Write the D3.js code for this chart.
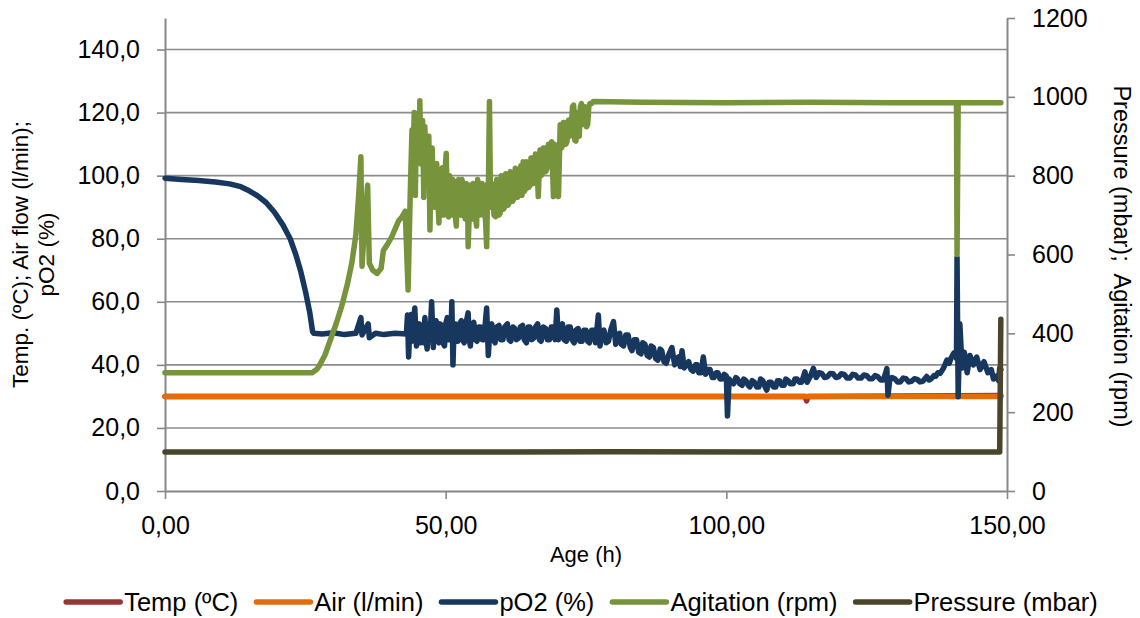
<!DOCTYPE html>
<html><head><meta charset="utf-8">
<script src="https://cdn.jsdelivr.net/npm/d3@7"></script>
<style>
html,body{margin:0;padding:0;background:#fff;}
svg text{font-family:"Liberation Sans",Arial,sans-serif;fill:#000;}
</style></head>
<body>
<svg id="chart" width="1140" height="618"></svg>
<script>
// ---- data: [age (h), value] ----
const seriesNames = ["Temp (ºC)", "Air (l/min)", "pO2 (%)", "Agitation (rpm)", "Pressure (mbar)"];
const leftTicks = [0, 20, 40, 60, 80, 100, 120, 140];
const rightTicks = [0, 200, 400, 600, 800, 1000, 1200];
const xTicks = [0, 50, 100, 150];

const tempData = [[0,30],[114.0,30],[114.3,28.6],[114.6,30],[148.9,30.3]];
const airData = [[0,30],[148.9,30]];
const pressureData = [[0,99],[40,99],[80,99.3],[120,99],[148.7,99],[148.9,436]];

const pO2Data = [
 [0,99.2],[3,98.8],[6,98.5],[9,98.0],[11.5,97.4],[13.5,96.5],[15,95.2],[16.5,93.6],[18,91.5],
 [19.5,88.4],[21,84.4],[22.3,80.0],[23.3,75.0],[24.2,69.5],[25,63.5],[25.8,56.5],[26.3,50.5],[26.5,50.0],
 [28,49.8],[30,50.2],[32,49.6],[34,50.0],[34.9,55.0],[35.1,49.5],[36.2,53.0],[36.4,48.6],
 [37.5,50.0],[39,49.6],[41,50.0],[43,49.8],[43.2,55.8],[43.4,42.5],[43.6,51],[43.8,56.0],[44.0,47.5],
 [44.2,52],[44.5,58.0],[44.8,46.0],[45.0,52],[45.3,53.0],[45.5,47],[45.8,52.5],[46.0,47.0],[46.3,55.0],
 [46.5,48],[46.7,45.0],[47.0,53],[47.2,48],[47.5,60.0],[47.8,45.5],[48.0,52],[48.3,54.0],[48.5,48],
 [48.8,47.0],[49.0,53],[49.3,52.5],[49.5,47],[49.8,46.0],[50.0,53],[50.3,55.0],[50.5,48],[50.8,48.0],
 [51.0,53],[51.1,60.0],[51.3,40.0],[51.5,52],[51.7,53.0],[52.0,47.5],[52.2,47.5],[52.5,53],[52.8,54.0],
 [53.0,48],[53.3,47.0],[53.6,53],[54.0,56.5],[54.2,48],[54.4,46.0],[54.7,52],[55.0,53.5],[55.3,48],
 [55.6,47.5],[55.9,52],[56.2,52.0],[56.5,48],[56.8,48.0],[57.0,52],[57.3,58.0],[57.6,43.0],[57.9,52],
 [58.2,53.0],[58.5,48],[58.8,47.0],[59.1,52],[59.5,52.5],[59.8,48],[60.2,48.0],[60.5,52],[61,53.0],
 [61.3,48],[61.6,47.5],[62.0,52],[62.3,51.5],[62.6,48],[63,48.5],[63.3,52],[63.7,52.5],[64.0,48],
 [64.4,47.0],[64.7,52],[65,52.0],[65.3,48],[65.7,48.5],[66.0,52],[66.4,53.0],[66.7,48],[67,47.5],
 [67.4,52],[67.8,51.5],[68.1,48],[68.5,48.0],[68.8,52],[69.2,52.0],[69.5,48],[69.8,57.4],[70.1,48.0],
 [70.4,52],[70.8,53.0],[71.1,48],[71.5,47.5],[71.8,52],[72.2,52.0],[72.5,48],[72.9,47.0],[73.2,51],
 [73.6,51.5],[73.9,47.5],[74.3,47.5],[74.6,51],[75,51.0],[75.3,47.5],[75.6,47.0],[76.0,51],[76.3,51.0],
 [76.7,47],[77.2,55.8],[77.5,46.0],[77.8,50],[78.2,51.0],[78.6,47],[79,47.5],[79.4,51],[79.9,53.7],
 [80.3,46.5],[80.6,49.5],[81,50.0],[81.3,46.5],[81.7,46.0],[82.1,49.5],[82.5,49.5],[82.9,45.5],
 [83.2,44.5],[83.6,48],[84,48.0],[84.4,44],[84.8,43.5],[85.1,47],[85.5,46.5],[85.9,43],[86.3,42.5],
 [86.6,46],[87,45.5],[87.4,42],[87.8,41.5],[88.2,45],[88.5,44.5],[88.9,41],[89.3,40.5],[89.8,43.5],
 [90.3,45.5],[90.8,40.0],[91.1,42],[91.5,42.5],[91.8,39.5],[92.1,44.5],[92.5,39.0],[92.9,40],
 [93.3,41.0],[93.7,38.5],[94.1,38.0],[94.5,40],[94.8,40.0],[95.1,37.5],[95.5,37.5],[95.9,42.5],
 [96.3,37.0],[96.7,38.5],[97.1,38.5],[97.5,36],[97.8,36.0],[98.2,37.5],[98.5,37.5],[98.9,35.5],
 [99.2,35.5],[99.6,37],[100.0,36.5],[100.2,23.8],[100.5,35.5],[100.9,34.5],[101.3,34.0],[101.7,36],
 [102,35.5],[102.4,34],[102.8,33.5],[103.1,35.5],[103.5,35.0],[103.9,33.5],[104.2,33.0],[104.6,35],
 [105,34.5],[105.4,33],[105.8,33.0],[106.1,35.5],[106.5,35.0],[106.9,33],[107.2,32.0],[107.6,34.5],
 [108,34.5],[108.4,33],[108.8,33.0],[109.1,35],[109.5,35.0],[109.9,33.5],[110.3,33.5],[110.6,35.5],
 [111,35.0],[111.4,34],[111.9,34.0],[112.2,35.5],[112.6,35.5],[113,34.5],[113.4,34.5],[113.7,36],
 [114.0,37.8],[114.4,34.5],[115,36.5],[115.5,38.9],[116,36.0],[116.5,37.5],[117,37.3],[117.5,36],
 [118,36.2],[118.5,37.3],[119,37.2],[119.5,36],[120,36.2],[120.5,37.2],[121,37.0],[121.5,35.8],
 [122,35.8],[122.5,37],[123,36.8],[123.5,35.8],[124,35.8],[124.5,36.8],[125,36.6],[125.5,35.6],
 [126,35.6],[126.5,36.6],[127,36.2],[127.5,35.2],[128,35.2],[128.6,38.8],[128.8,30.4],[129.1,35.0],
 [129.5,36],[130,35.6],[130.5,34.6],[131,34.6],[131.5,35.8],[132,35.6],[132.5,34.6],[133,34.8],
 [133.5,35.6],[134,35.4],[134.5,34.6],[135,34.8],[135.7,36.3],[136.1,35.2],[136.5,35.6],[137,36.6],
 [137.3,36.4],[137.7,37.5],[138.1,37.3],[138.7,39],[139.3,41.5],[139.7,40.5],[140,42.0],[140.5,43.7],
 [141.0,42.0],[141.1,74.0],[141.3,29.9],[141.6,53.0],[142.0,39.0],[142.4,44.0],[142.9,37.5],
 [143.4,43.0],[144,40.0],[144.6,42.5],[145.2,38.5],[145.9,41.0],[146.6,37.5],[147.2,38.5],
 [147.6,35.5],[148.2,36.5],[148.5,35.0],[148.7,39.0],[148.9,38.5]
];

const agitationData = [
 [0,300],[26.2,300],[27.0,308],[27.5,318],[28.5,345],[29.5,385],[30.5,425],[31.5,470],[32.5,525],
 [33.3,580],[34.0,650],[34.5,750],[34.9,848],[35.1,570],[35.4,640],[36.1,776],[36.4,578],[37.0,560],
 [37.8,552],[38.5,565],[38.9,610],[39.6,625],[40.4,645],[41.0,665],[41.6,685],[42.2,695],[42.8,710],
 [43.3,510],[43.7,760],[44.0,916],[44.2,850],[44.4,960],[44.6,750],[44.8,958],[45.0,900],[45.1,940],
 [45.3,860],[45.4,990],[45.6,830],[45.8,920],[45.9,940],[46.1,745],[46.3,924],[46.5,800],[46.6,860],
 [46.8,780],[47.0,900],[47.2,662],[47.4,850],[47.6,870],[47.8,760],[48.0,720],[48.2,800],[48.4,831],
 [48.6,740],[48.8,680],[49.0,790],[49.2,760],[49.4,820],[49.6,700],[49.8,790],[50.1,857],[50.3,720],
 [50.5,695],[50.7,800],[50.9,780],[51.1,700],[51.3,790],[51.5,764],[51.7,700],[51.9,672],[52.1,780],
 [52.3,790],[52.5,710],[52.7,700],[52.9,790],[53.1,775],[53.3,700],[53.5,690],[53.7,780],[53.9,760],
 [54.0,620],[54.2,700],[54.3,776],[54.5,700],[54.7,690],[54.9,780],[55.1,770],[55.3,700],[55.5,672],
 [55.7,790],[55.9,773],[56.1,700],[56.3,705],[56.5,780],[56.7,770],[56.9,700],[57.1,690],[57.3,620],
 [57.5,780],[57.6,760],[57.8,988],[58.0,720],[58.2,780],[58.4,770],[58.6,700],[58.9,696],[59.1,790],
 [59.3,780],[59.5,700],[59.7,705],[59.9,800],[60.1,790],[60.3,715],[60.5,720],[60.7,805],[60.9,800],
 [61.1,725],[61.3,730],[61.5,810],[61.7,805],[61.9,735],[62.1,740],[62.4,819],[62.6,810],[62.8,745],
 [63.0,750],[63.2,815],[63.4,825],[63.6,750],[63.8,835],[64.0,760],[64.2,765],[64.4,835],[64.6,830],
 [64.8,770],[65.0,775],[65.2,845],[65.4,845],[65.6,780],[65.8,785],[66.0,855],[66.2,850],[66.5,747],
 [66.8,865],[67.0,800],[67.2,805],[67.4,870],[67.6,870],[67.8,810],[68.0,815],[68.3,880],[68.5,880],
 [68.7,825],[68.9,886],[69.2,747],[69.4,880],[69.6,870],[69.8,830],[70.1,747],[70.4,929],[70.6,870],
 [70.8,875],[71.0,935],[71.2,935],[71.4,880],[71.6,885],[71.9,941],[72.1,900],[72.3,905],[72.6,975],
 [72.8,979],[73.0,890],[73.2,888],[73.4,960],[73.6,960],[73.8,900],[74.0,975],[74.2,983],[74.4,930],
 [74.6,930],[74.8,975],[75.1,924],[75.3,930],[75.5,975],[75.7,983],[76.0,983],[76.3,988],
 [85,986],[100,985],[115,986],[130,985],[141.0,985],[141.1,600],[141.3,985],[148.9,985]
];

const colors = ["#953735", "#E46C0A", "#17375E", "#77933C", "#4A452A"];

// ---- layout ----
const svg = d3.select("#chart");
const x = d3.scaleLinear().domain([0, 150]).range([165, 1007]);
const yL = d3.scaleLinear().domain([0, 150]).range([491, 18]);
const yR = d3.scaleLinear().domain([0, 1200]).range([491, 18]);
const axisColor = "#878787";

// gridlines
svg.append("g").selectAll("line").data(leftTicks.filter(d => d > 0)).join("line")
  .attr("x1", x(0)).attr("x2", x(150))
  .attr("y1", d => yL(d)).attr("y2", d => yL(d))
  .attr("stroke", "#8c8c8c").attr("stroke-width", 1.6);

const fmtL = d => d3.format(".1f")(d).replace(".", ",");
const fmtX = d => d3.format(".2f")(d).replace(".", ",");

function styleAxis(g) {
  g.select(".domain").attr("stroke", axisColor).attr("stroke-width", 2);
  g.selectAll(".tick line").attr("stroke", axisColor).attr("stroke-width", 1.6);
  g.selectAll(".tick text").attr("font-size", 25).attr("font-family", "Liberation Sans, Arial, sans-serif").attr("fill", "#000");
}

const gx = svg.append("g").attr("transform", `translate(0,${yL(0)})`)
  .call(d3.axisBottom(x).tickValues(xTicks).tickFormat(fmtX).tickSize(8).tickSizeOuter(0).tickPadding(17));
styleAxis(gx);

const gl = svg.append("g").attr("transform", `translate(${x(0)},0)`)
  .call(d3.axisLeft(yL).tickValues(leftTicks).tickFormat(fmtL).tickSize(8).tickSizeOuter(0).tickPadding(17));
styleAxis(gl);

const gr = svg.append("g").attr("transform", `translate(${x(150)},0)`)
  .call(d3.axisRight(yR).tickValues(rightTicks).tickFormat(d3.format("d")).tickSize(8).tickSizeOuter(0).tickPadding(17));
styleAxis(gr);

// axis titles
svg.append("text").attr("text-anchor", "middle").attr("font-size", 22.5)
  .attr("transform", `translate(28,${(18 + 491) / 2}) rotate(-90)`)
  .text("Temp. (ºC); Air flow (l/min);");
svg.append("text").attr("text-anchor", "middle").attr("font-size", 22.5)
  .attr("transform", `translate(54,${(18 + 491) / 2}) rotate(-90)`)
  .text("pO2 (%)");
svg.append("text").attr("text-anchor", "middle").attr("font-size", 23.5)
  .attr("transform", `translate(1114,${(18 + 491) / 2 + 2}) rotate(90)`)
  .attr("xml:space", "preserve")
  .text("Pressure (mbar);  Agitation (rpm)");
svg.append("text").attr("text-anchor", "middle").attr("font-size", 22)
  .attr("x", (165 + 1007) / 2).attr("y", 562).text("Age (h)");

// series
const lineL = d3.line().x(d => x(d[0])).y(d => yL(d[1]));
const lineR = d3.line().x(d => x(d[0])).y(d => yR(d[1]));
const series = [
  {data: tempData, line: lineL, c: colors[0]},
  {data: airData, line: lineL, c: colors[1]},
  {data: pO2Data, line: lineL, c: colors[2]},
  {data: agitationData, line: lineR, c: colors[3]},
  {data: pressureData, line: lineR, c: colors[4]}
];
svg.append("g").selectAll("path").data(series).join("path")
  .attr("d", s => s.line(s.data))
  .attr("fill", "none").attr("stroke", s => s.c)
  .attr("stroke-width", 5.5).attr("stroke-linejoin", "round").attr("stroke-linecap", "round");

// legend
const leg = svg.append("g");
const legFont = 25.5, sw = 54, gapText = 4, gapItem = 18, legY = 602;
const items = [];
seriesNames.forEach((n, i) => {
  const g = leg.append("g");
  g.append("line").attr("x1", 0).attr("x2", sw).attr("y1", 0).attr("y2", 0)
    .attr("stroke", colors[i]).attr("stroke-width", 5.5).attr("stroke-linecap", "round");
  const t = g.append("text").attr("x", sw + gapText).attr("y", 0).attr("dy", "0.35em")
    .attr("font-size", legFont).text(n);
  const w = sw + gapText + t.node().getComputedTextLength();
  items.push({g, w});
});
const total = d3.sum(items, d => d.w) + gapItem * (items.length - 1);
let start = 582 - total / 2;
items.forEach(it => { it.g.attr("transform", `translate(${start},${legY})`); start += it.w + gapItem; });
</script>
</body></html>
